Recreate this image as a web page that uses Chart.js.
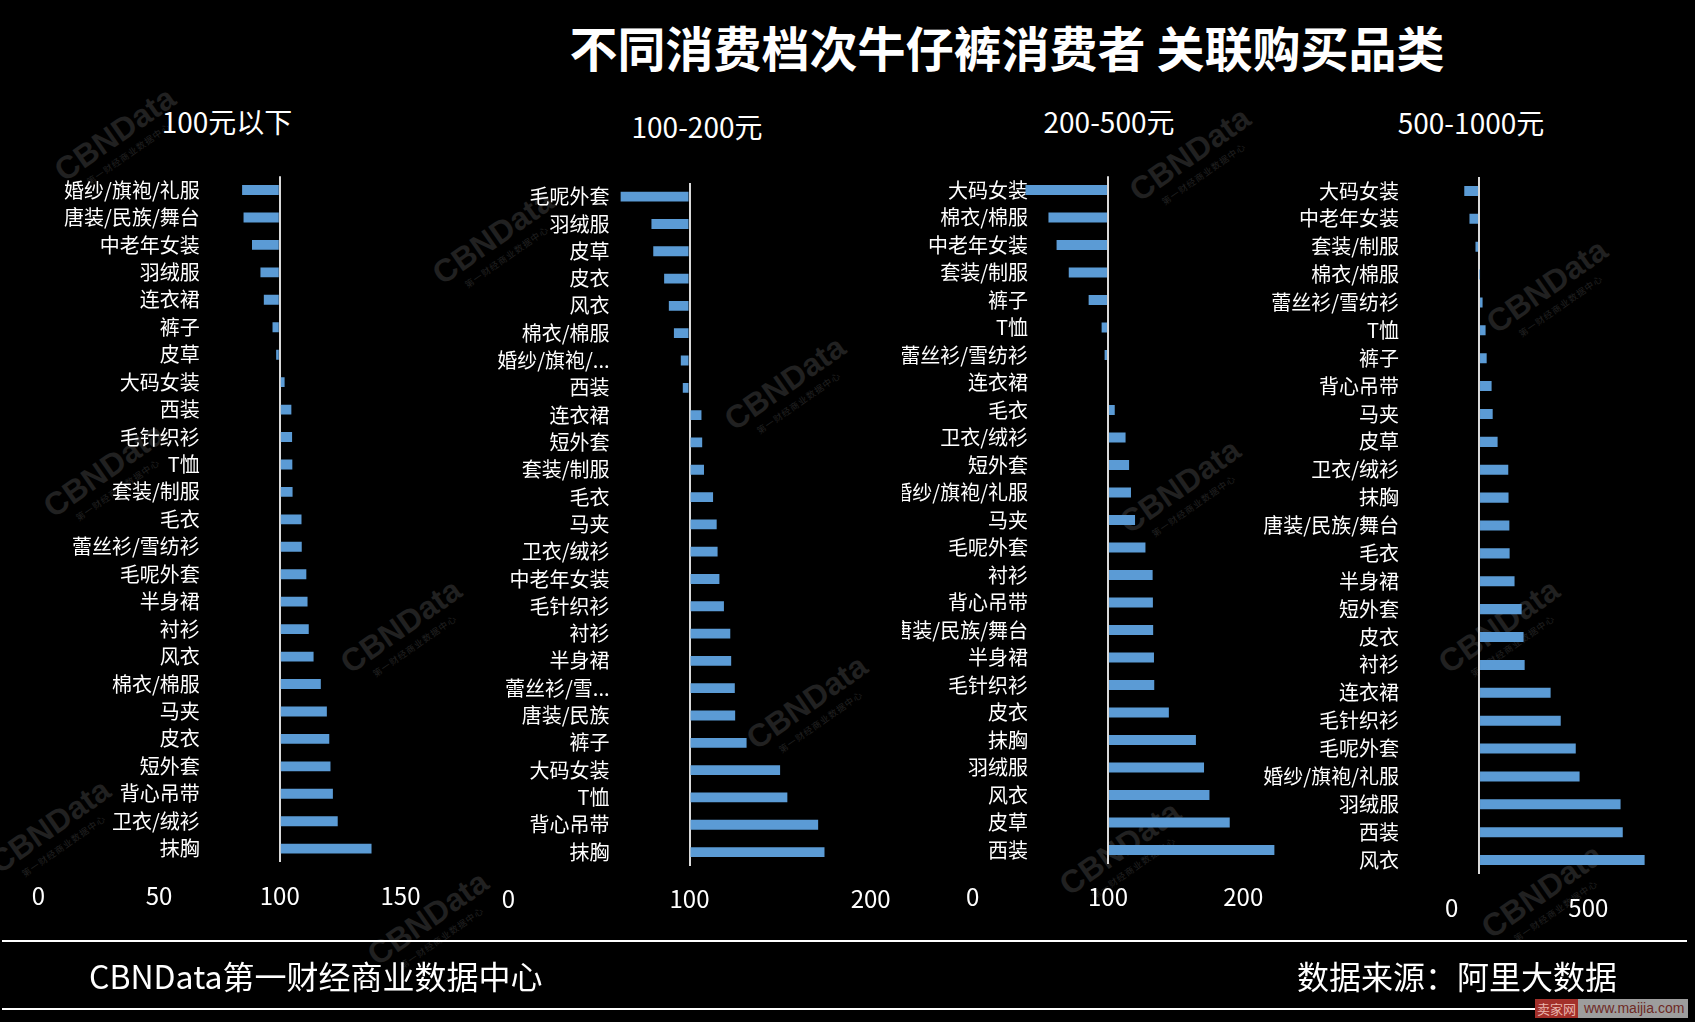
<!DOCTYPE html>
<html lang="zh-CN">
<head>
<meta charset="UTF-8">
<title>不同消费档次牛仔裤消费者 关联购买品类</title>
<script src="https://cdn.jsdelivr.net/npm/chart.js"></script>
<style>
  * { box-sizing: border-box; }
  html, body { margin: 0; background: #000; }
  body { width: 1695px; height: 1022px; position: relative; overflow: hidden; font-family: 'Noto Sans CJK SC', 'Noto Sans', sans-serif; color: #fff; }
  canvas { position: absolute; left: 0; top: 0; }
  .t { position: absolute; white-space: nowrap; transform: translate(-50%, -50%); line-height: 1; }
  .main-title { font-size: 48px; font-weight: 700; left: 1007px; top: 46px; }
  .sub { font-size: 28px; }
  .foot { position: absolute; top: 975px; transform: translateY(-50%); font-size: 32px; white-space: nowrap; line-height: 1; }
  .rule { position: absolute; left: 2px; width: 1685px; height: 2px; background: #fff; }
  .wm { position: absolute; transform: translate(-50%, -50%) rotate(-35deg); color: #212121; font: 700 32px 'Liberation Sans', Arial, sans-serif; line-height: 1; text-align: center; white-space: nowrap; }
  .wm small { display: block; font: 400 9px 'Noto Sans CJK SC', sans-serif; margin-top: 2px; letter-spacing: 1px; }
  .badge { position: absolute; left: 1535px; top: 999px; height: 19px; display: flex; font-size: 13px; line-height: 19px; }
  .badge .a { width: 43px; background: #a3302a; color: #e9b5ad; text-align: center; }
  .badge .b { width: 110px; background: #9d9d9d; color: #6e2a25; padding-left: 6px; font-family: 'Liberation Sans', Arial, sans-serif; font-size: 14px; }
</style>
</head>
<body>
  <div id="marks"></div>

  <div class="t main-title">不同消费档次牛仔裤消费者 关联购买品类</div>
  <div class="t sub" style="left:227px; top:121px;">100元以下</div>
  <div class="t sub" style="left:697px; top:126px;">100-200元</div>
  <div class="t sub" style="left:1109px; top:121px;">200-500元</div>
  <div class="t sub" style="left:1471px; top:122px;">500-1000元</div>

  <canvas id="c1" width="1695" height="1022"></canvas>
  <canvas id="c2" width="1695" height="1022"></canvas>
  <canvas id="c3" width="1695" height="1022" style="clip-path: inset(0 0 0 902px);"></canvas>
  <canvas id="c4" width="1695" height="1022"></canvas>

  <div class="rule" style="top:940px;"></div>
  <div class="foot" style="left:89px;">CBNData第一财经商业数据中心</div>
  <div class="foot" style="left:1297px;">数据来源：阿里大数据</div>
  <div class="rule" style="top:1008px;"></div>
  <div class="badge"><div class="a">卖家网</div><div class="b">www.maijia.com</div></div>

  <script>
    // 100元以下
    const cats1 = ['婚纱/旗袍/礼服','唐装/民族/舞台','中老年女装','羽绒服','连衣裙','裤子','皮草','大码女装','西装','毛针织衫','T恤','套装/制服','毛衣','蕾丝衫/雪纺衫','毛呢外套','半身裙','衬衫','风衣','棉衣/棉服','马夹','皮衣','短外套','背心吊带','卫衣/绒衫','抹胸'];
    const vals1 = [84.4, 85, 88.5, 92, 93.4, 97, 98.5, 102, 104.8, 105.1, 105.2, 105.3, 109, 109.1, 111, 111.5, 112, 114, 117, 119.5, 120.5, 121, 122, 124, 138];
    const ticks1 = [0, 50, 100, 150];

    // 100-200元
    const cats2 = ['毛呢外套','羽绒服','皮草','皮衣','风衣','棉衣/棉服','婚纱/旗袍/...','西装','连衣裙','短外套','套装/制服','毛衣','马夹','卫衣/绒衫','中老年女装','毛针织衫','衬衫','半身裙','蕾丝衫/雪...','唐装/民族','裤子','大码女装','T恤','背心吊带','抹胸'];
    const vals2 = [62, 79, 80, 86, 88.6, 91.4, 95.2, 96.3, 106.6, 107, 108, 113, 115, 115.5, 116.5, 119, 122.5, 123, 125, 125.2, 131.5, 150, 154, 171, 174.5];
    const ticks2 = [0, 100, 200];

    // 200-500元
    const cats3 = ['大码女装','棉衣/棉服','中老年女装','套装/制服','裤子','T恤','蕾丝衫/雪纺衫','连衣裙','毛衣','卫衣/绒衫','短外套','婚纱/旗袍/礼服','马夹','毛呢外套','衬衫','背心吊带','唐装/民族/舞台','半身裙','毛针织衫','皮衣','抹胸','羽绒服','风衣','皮草','西装'];
    const vals3 = [39, 56, 62, 71, 85.7, 95.3, 97.5, 100, 105, 113, 115.6, 117, 120, 127.7, 133, 133.2, 133.4, 134, 134.2, 145, 165, 171, 175, 190, 223];
    const ticks3 = [0, 100, 200];

    // 500-1000元
    const cats4 = ['大码女装','中老年女装','套装/制服','棉衣/棉服','蕾丝衫/雪纺衫','T恤','裤子','背心吊带','马夹','皮草','卫衣/绒衫','抹胸','唐装/民族/舞台','毛衣','半身裙','短外套','皮衣','衬衫','连衣裙','毛针织衫','毛呢外套','婚纱/旗袍/礼服','羽绒服','西装','风衣'];
    const vals4 = [46, 65, 87, 101, 113, 124, 128, 146, 150, 168, 207, 208, 211, 212, 230, 256, 263, 267, 362, 399, 454, 468, 618, 626, 706];
    const ticks4 = [0, 500];

    const BASE = 100;              // bars grow from 100, where the vertical axis crosses
    const W = 1695, H = 1022, AXIS_H = 60, LABEL_GAP = 80;
    const family = "'Noto Sans CJK SC', 'Noto Sans', sans-serif";

    // faint CBNData watermarks
    const marks = [[119,140],[497,243],[789,389],[1194,160],[1184,492],[1551,292],[108,476],[405,632],[811,708],[1503,632],[54,832],[432,924],[1124,854],[1546,897]];
    document.getElementById('marks').innerHTML = marks.map(([x, y]) =>
      `<div class="wm" style="left:${x}px; top:${y}px;">CBNData<small>第一财经商业数据中心</small></div>`).join('');

    function panel(id, cats, vals, ticks, max, g) {
      const ppu = (g.x1 - g.x0) / max;
      const labelAt = BASE - LABEL_GAP / ppu;   // category labels sit 80px left of the axis line
      const shown = new Set(ticks);
      new Chart(document.getElementById(id), {
        type: 'bar',
        data: { labels: cats, datasets: [{ data: vals, base: BASE, backgroundColor: '#5b9bd5', barPercentage: 0.36, categoryPercentage: 1 }] },
        options: {
          indexAxis: 'y', responsive: false, animation: false, events: [],
          layout: { padding: { left: g.x0, right: W - g.x1, top: g.top, bottom: H - g.bottom - AXIS_H } },
          plugins: { legend: { display: false }, tooltip: { enabled: false } },
          scales: {
            x: {
              type: 'linear', position: 'bottom', min: 0, max: max,
              grid: { display: true, drawTicks: false, lineWidth: 2, color: c => c.tick && c.tick.value === BASE ? '#d9d9d9' : 'rgba(0,0,0,0)' },
              border: { display: false },
              afterBuildTicks: s => { s.ticks = [...new Set([...ticks, BASE])].sort((a, b) => a - b).map(v => ({ value: v })); },
              afterFit: s => { s.height = AXIS_H; },
              ticks: { color: '#fff', font: { family, size: 24 }, padding: 19, maxRotation: 0, autoSkip: false,
                       callback: v => shown.has(v) ? String(v) : '' }
            },
            y: {
              type: 'category', axis: 'y', position: { x: labelAt }, z: 1,
              grid: { display: false, drawTicks: false },
              border: { display: false },
              ticks: { color: '#fff', font: { family, size: 20 }, padding: 0, autoSkip: false }
            }
          }
        }
      });
    }

    panel('c1', cats1, vals1, ticks1, 150, { x0: 38.3, x1: 400.5, top: 176.3, bottom: 862.4 });
    panel('c2', cats2, vals2, ticks2, 200, { x0: 508.3, x1: 870.7, top: 183, bottom: 865.7 });
    panel('c3', cats3, vals3, ticks3, 250, { x0: 972.7, x1: 1310.9, top: 176.2, bottom: 863.8 });
    panel('c4', cats4, vals4, ticks4, 800, { x0: 1451.7, x1: 1670.3, top: 177, bottom: 874 });
  </script>
</body>
</html>
